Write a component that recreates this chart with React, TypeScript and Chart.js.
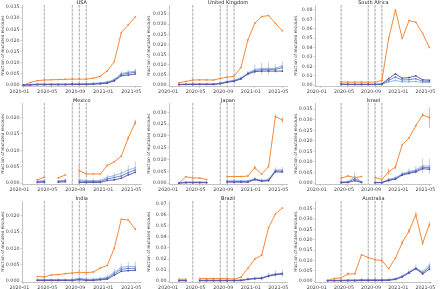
import React, { useEffect, useRef } from "react";
import { Chart, registerables } from "chart.js";
Chart.register(...registerables);

const months = [0, 1, 2, 3, 4, 5, 6, 7, 8, 9, 10, 11, 12, 13, 14, 15, 16];
const xTickMonths = [0, 4, 8, 12, 16];
const xTickLabels = ["2020-01", "2020-05", "2020-09", "2021-01", "2021-05"];
const eventMonths = [3, 7, 8, 9];
const countries = ["USA", "United Kingdom", "South Africa", "Mexico", "Japan", "Israel", "India", "Brazil", "Australia"];

const N = null;
// USA
const usaOrange = [0.0, 0.0012, 0.002, 0.0023, 0.0024, 0.0025, 0.0026, 0.0027, 0.0027, 0.0027, 0.0031, 0.004, 0.0064, 0.0105, 0.0235, 0.027, 0.0305];
const usaLight = [0.0, 0.0003, 0.0005, 0.0005, 0.0005, 0.0005, 0.0005, 0.0006, 0.0006, 0.0006, 0.0008, 0.001, 0.0014, 0.0025, 0.0052, 0.0058, 0.0063];
const usaMid = [0.0, 0.0002, 0.0004, 0.0004, 0.0004, 0.0004, 0.0004, 0.0005, 0.0005, 0.0005, 0.0006, 0.0008, 0.0012, 0.0022, 0.0048, 0.0053, 0.0058];
const usaDark = [0.0, 0.0001, 0.0002, 0.0002, 0.0002, 0.0002, 0.0002, 0.0003, 0.0003, 0.0003, 0.0004, 0.0006, 0.0009, 0.0019, 0.0042, 0.0045, 0.005];
const usaBlueErr = [0, 0.0002, 0.0003, 0.0003, 0.0003, 0.0003, 0.0003, 0.0003, 0.0003, 0.0003, 0.0004, 0.0005, 0.0007, 0.0009, 0.001, 0.0011, 0.0012];
const usaOrangeErr = [0, 0, 0, 0, 0, 0, 0, 0, 0, 0, 0, 0, 0, 0, 0, 0, 0];
const usaYTicks = [0, 0.005, 0.01, 0.015, 0.02, 0.025, 0.03, 0.035];
// United Kingdom
const ukOrange = [N, 0.0011, 0.0018, 0.0025, 0.0026, 0.0026, 0.0025, 0.0033, 0.0039, 0.0044, 0.0087, 0.0222, 0.0304, 0.0337, 0.0342, 0.0304, 0.0267];
const ukLight = [N, 0.0004, 0.0005, 0.0006, 0.0006, 0.0006, 0.0006, 0.001, 0.0018, 0.0024, 0.0036, 0.0059, 0.0077, 0.0082, 0.0082, 0.0083, 0.0095];
const ukMid = [N, 0.0003, 0.0004, 0.0005, 0.0005, 0.0005, 0.0005, 0.0009, 0.0016, 0.0022, 0.0033, 0.0057, 0.0072, 0.0076, 0.0076, 0.0078, 0.0086];
const ukDark = [N, 0.0002, 0.0003, 0.0003, 0.0003, 0.0003, 0.0003, 0.0007, 0.0014, 0.0019, 0.003, 0.0055, 0.0066, 0.0069, 0.0069, 0.0069, 0.0069];
const ukBlueErr = [0, 0.0002, 0.0003, 0.0003, 0.0003, 0.0003, 0.0003, 0.0004, 0.0005, 0.0006, 0.0008, 0.0012, 0.0025, 0.0028, 0.003, 0.0022, 0.002];
const ukOrangeErr = [0, 0, 0, 0, 0, 0, 0, 0, 0, 0, 0, 0, 0, 0, 0, 0, 0];
const ukYTicks = [0, 0.005, 0.01, 0.015, 0.02, 0.025, 0.03, 0.035];
// South Africa
const zaOrange = [N, N, N, 0.0035, 0.0032, 0.0032, 0.0032, 0.0032, 0.0032, 0.005, 0.0496, 0.08, 0.0496, 0.0687, 0.067, 0.055, 0.04];
const zaLight = [N, N, N, 0.0006, 0.0005, 0.0005, 0.0005, 0.0005, 0.0005, 0.0008, 0.0035, 0.005, 0.0035, 0.0036, 0.0039, 0.0028, 0.0028];
const zaMid = [N, N, N, 0.0008, 0.0007, 0.0007, 0.0007, 0.0007, 0.0007, 0.001, 0.0052, 0.0085, 0.0055, 0.0058, 0.0068, 0.0042, 0.004];
const zaDark = [N, N, N, 0.0012, 0.001, 0.001, 0.001, 0.001, 0.001, 0.0013, 0.007, 0.012, 0.0074, 0.008, 0.0099, 0.0057, 0.0053];
const zaBlueErr = [0, 0, 0, 0.0004, 0.0004, 0.0004, 0.0004, 0.0004, 0.0004, 0.0005, 0.0008, 0.001, 0.0008, 0.0008, 0.0008, 0.0007, 0.0007];
const zaOrangeErr = [0, 0, 0, 0, 0, 0, 0, 0, 0, 0, 0, 0, 0, 0, 0, 0, 0];
const zaYTicks = [0, 0.01, 0.02, 0.03, 0.04, 0.05, 0.06, 0.07, 0.08];
// Mexico
const mxOrange = [N, N, 0.001, 0.0018, N, 0.0016, 0.0025, N, 0.0038, 0.0028, 0.0028, 0.0028, 0.0054, 0.0065, 0.0082, 0.0138, 0.0185];
const mxLight = [N, N, 0.0006, 0.0008, N, 0.0007, 0.001, N, 0.001, 0.0008, 0.0008, 0.0008, 0.0018, 0.0023, 0.003, 0.004, 0.0047];
const mxMid = [N, N, 0.0004, 0.0005, N, 0.0005, 0.0007, N, 0.0006, 0.0005, 0.0005, 0.0005, 0.0013, 0.0017, 0.0022, 0.0032, 0.004];
const mxDark = [N, N, 0.0002, 0.0003, N, 0.0003, 0.0004, N, 0.0002, 0.0002, 0.0002, 0.0002, 0.0008, 0.001, 0.0015, 0.0025, 0.0033];
const mxBlueErr = [0, 0, 0.0003, 0.0003, 0, 0.0003, 0.0004, 0, 0.0005, 0.0004, 0.0004, 0.0004, 0.0008, 0.001, 0.0012, 0.0015, 0.0018];
const mxOrangeErr = [0, 0, 0, 0, 0, 0, 0, 0, 0.002, 0, 0, 0, 0, 0, 0, 0.0005, 0.0008];
const mxYTicks = [0, 0.005, 0.01, 0.015, 0.02];
// Japan
const jpOrange = [N, 0.0, 0.0027, 0.0022, 0.0022, 0.0015, N, N, 0.0028, 0.0028, 0.0028, 0.003, 0.0066, 0.0038, 0.007, 0.0283, 0.0268];
const jpLight = [N, 0.0002, 0.0005, 0.0005, 0.0005, 0.0004, N, N, 0.001, 0.001, 0.001, 0.001, 0.0019, 0.0012, 0.0015, 0.0056, 0.0056];
const jpMid = [N, 0.0001, 0.0003, 0.0003, 0.0003, 0.0003, N, N, 0.0007, 0.0007, 0.0007, 0.0007, 0.0017, 0.001, 0.0012, 0.0052, 0.0051];
const jpDark = [N, 0.0, 0.0002, 0.0002, 0.0002, 0.0002, N, N, 0.0004, 0.0004, 0.0004, 0.0004, 0.0015, 0.0008, 0.001, 0.0048, 0.0047];
const jpBlueErr = [0, 0.0002, 0.0003, 0.0003, 0.0003, 0.0003, 0, 0, 0.0004, 0.0004, 0.0004, 0.0005, 0.0008, 0.0008, 0.0009, 0.0012, 0.0012];
const jpOrangeErr = [0, 0, 0, 0, 0, 0, 0, 0, 0, 0, 0, 0, 0.0008, 0, 0, 0.0008, 0.0012];
const jpYTicks = [0, 0.005, 0.01, 0.015, 0.02, 0.025, 0.03];
// Israel
const ilOrange = [N, N, N, 0.0023, 0.0034, 0.0026, 0.0031, N, 0.0026, 0.0017, 0.0054, 0.0076, 0.0182, 0.0213, 0.0272, 0.0322, 0.031];
const ilLight = [N, N, N, 0.0006, 0.0007, 0.003, 0.0006, N, 0.0004, 0.0004, 0.0018, 0.0025, 0.0045, 0.0055, 0.0063, 0.0082, 0.008];
const ilMid = [N, N, N, 0.0004, 0.0005, 0.002, 0.0005, N, 0.0003, 0.0003, 0.0015, 0.0022, 0.0041, 0.005, 0.0058, 0.0075, 0.0073];
const ilDark = [N, N, N, 0.0002, 0.0003, 0.0012, 0.0003, N, 0.0002, 0.0002, 0.0012, 0.0019, 0.0038, 0.0046, 0.0053, 0.0068, 0.0066];
const ilBlueErr = [0, 0, 0, 0.0004, 0.0005, 0.0025, 0.0005, 0, 0.0004, 0.0004, 0.0008, 0.001, 0.0012, 0.0015, 0.0018, 0.0035, 0.0035];
const ilOrangeErr = [0, 0, 0, 0, 0, 0, 0, 0, 0, 0, 0.0015, 0.001, 0, 0, 0, 0.001, 0.0047];
const ilYTicks = [0, 0.005, 0.01, 0.015, 0.02, 0.025, 0.03, 0.035];
// India
const inOrange = [N, N, 0.0014, 0.0013, 0.0019, 0.002, 0.0023, 0.0025, 0.0027, 0.0026, 0.0028, 0.004, 0.0048, 0.0101, 0.0189, 0.0187, 0.0159];
const inLight = [N, N, 0.0005, 0.0005, 0.0005, 0.0005, 0.0005, 0.0005, 0.0009, 0.0006, 0.0006, 0.0008, 0.0012, 0.0028, 0.0042, 0.0045, 0.0045];
const inMid = [N, N, 0.0003, 0.0003, 0.0003, 0.0003, 0.0003, 0.0003, 0.0006, 0.0004, 0.0004, 0.0006, 0.0009, 0.0023, 0.0036, 0.0039, 0.0039];
const inDark = [N, N, 0.0002, 0.0002, 0.0002, 0.0002, 0.0002, 0.0002, 0.0004, 0.0002, 0.0002, 0.0004, 0.0006, 0.0018, 0.003, 0.0032, 0.0033];
const inBlueErr = [0, 0, 0.0003, 0.0003, 0.0003, 0.0003, 0.0003, 0.0003, 0.0004, 0.0004, 0.0004, 0.0006, 0.0008, 0.001, 0.0012, 0.0014, 0.0015];
const inOrangeErr = [0, 0, 0, 0, 0, 0, 0, 0, 0, 0, 0, 0, 0, 0, 0, 0, 0];
const inYTicks = [0, 0.005, 0.01, 0.015, 0.02];
// Brazil
const brOrange = [N, 0.0017, 0.0017, N, 0.0024, 0.0024, 0.0024, 0.0024, 0.0024, 0.0018, 0.0036, 0.0116, 0.02, 0.0235, 0.0482, 0.0607, 0.066];
const brLight = [N, 0.0006, 0.0006, N, 0.0009, 0.0009, 0.0009, 0.0009, 0.0009, 0.0009, 0.001, 0.002, 0.0027, 0.003, 0.0052, 0.0065, 0.0072];
const brMid = [N, 0.0005, 0.0005, N, 0.0007, 0.0007, 0.0007, 0.0007, 0.0007, 0.0007, 0.0008, 0.0017, 0.0024, 0.0027, 0.0048, 0.0061, 0.0068];
const brDark = [N, 0.0004, 0.0004, N, 0.0004, 0.0004, 0.0004, 0.0004, 0.0004, 0.0004, 0.0005, 0.0015, 0.0022, 0.0025, 0.0045, 0.0058, 0.0065];
const brBlueErr = [0, 0.0004, 0.0004, 0, 0.0005, 0.0005, 0.0005, 0.0005, 0.0005, 0.0005, 0.0006, 0.001, 0.0015, 0.002, 0.0025, 0.003, 0.0035];
const brOrangeErr = [0, 0, 0, 0, 0, 0, 0, 0, 0, 0, 0, 0, 0, 0, 0, 0, 0];
const brYTicks = [0, 0.01, 0.02, 0.03, 0.04, 0.05, 0.06, 0.07];
// Australia
const auOrange = [N, 0.0003, 0.0013, 0.0016, 0.0035, 0.0035, 0.0127, 0.0114, 0.0103, 0.01, 0.006, 0.0111, 0.0186, 0.0242, 0.0321, 0.0183, 0.0273];
const auLight = [N, 0.0004, 0.0005, 0.0005, 0.0006, 0.0006, 0.0008, 0.0008, 0.0008, 0.0008, 0.0008, 0.0012, 0.0025, 0.0045, 0.0065, 0.0045, 0.0078];
const auMid = [N, 0.0003, 0.0003, 0.0003, 0.0004, 0.0004, 0.0005, 0.0005, 0.0005, 0.0005, 0.0006, 0.001, 0.0022, 0.0042, 0.0062, 0.004, 0.0068];
const auDark = [N, 0.0002, 0.0002, 0.0002, 0.0002, 0.0002, 0.0003, 0.0003, 0.0003, 0.0003, 0.0004, 0.0008, 0.002, 0.004, 0.006, 0.0035, 0.0058];
const auBlueErr = [0, 0.0003, 0.0003, 0.0003, 0.0004, 0.0004, 0.0008, 0.0008, 0.0008, 0.0008, 0.0005, 0.0006, 0.0008, 0.0012, 0.0015, 0.0012, 0.0012];
const auOrangeErr = [0, 0, 0, 0, 0.0008, 0, 0, 0, 0, 0, 0, 0, 0.001, 0.0012, 0.0015, 0.001, 0.0012];
const auYTicks = [0, 0.005, 0.01, 0.015, 0.02, 0.025, 0.03, 0.035];

const ORANGE = "#f5893a";
const LIGHT = "#8db3df";
const MID = "#5b82cc";
const DARK = "#5b4ca6";
const ERRGRAY = "#c9ccd6";

// layout (pixel geometry of the grid)
const colLeft = [0, 146, 293];
const colWidth = [146, 147, 147];
const colYAxisW = [22, 23, 22];
const colRightPad = [3, 3, 3];
const colXRange = [[-0.2, 16.9], [-0.45, 16.7], [-0.85, 16.35]];
const rowTop = [0, 96, 193];
const rowHeight = [96, 97, 96];
const rowTopPad = [5, 7, 8];
const rowXAxisH = [9.5, 8.5, 6.5];

const panels = [
  { o: usaOrange, l: usaLight, m: usaMid, d: usaDark, be: usaBlueErr, oe: usaOrangeErr, yt: usaYTicks, yMax: 0.0359, dec: 3 },
  { o: ukOrange, l: ukLight, m: ukMid, d: ukDark, be: ukBlueErr, oe: ukOrangeErr, yt: ukYTicks, yMax: 0.0394, dec: 3 },
  { o: zaOrange, l: zaLight, m: zaMid, d: zaDark, be: zaBlueErr, oe: zaOrangeErr, yt: zaYTicks, yMax: 0.0853, dec: 2 },
  { o: mxOrange, l: mxLight, m: mxMid, d: mxDark, be: mxBlueErr, oe: mxOrangeErr, yt: mxYTicks, yMax: 0.0244, dec: 3 },
  { o: jpOrange, l: jpLight, m: jpMid, d: jpDark, be: jpBlueErr, oe: jpOrangeErr, yt: jpYTicks, yMax: 0.034, dec: 3 },
  { o: ilOrange, l: ilLight, m: ilMid, d: ilDark, be: ilBlueErr, oe: ilOrangeErr, yt: ilYTicks, yMax: 0.0379, dec: 3 },
  { o: inOrange, l: inLight, m: inMid, d: inDark, be: inBlueErr, oe: inOrangeErr, yt: inYTicks, yMax: 0.0245, dec: 3 },
  { o: brOrange, l: brLight, m: brMid, d: brDark, be: brBlueErr, oe: brOrangeErr, yt: brYTicks, yMax: 0.0724, dec: 2 },
  { o: auOrange, l: auLight, m: auMid, d: auDark, be: auBlueErr, oe: auOrangeErr, yt: auYTicks, yMax: 0.0387, dec: 3 },
];

const FONT = "DejaVu Sans";

function toXY(arr: (number | null)[]) {
  return months.map((mo, i) => ({ x: mo, y: arr[i] }));
}

function Panel({ idx }: { idx: number }) {
  const ref = useRef<HTMLCanvasElement | null>(null);
  const p = panels[idx];
  const col = idx % 3;
  const row = Math.floor(idx / 3);
  useEffect(() => {
    if (!ref.current) return;
    const yMin = -p.yMax * 0.017;
    const mkLine = (arr: (number | null)[], color: string, errs: number[] | null, errColor: string, w: number) => ({
      data: toXY(arr),
      borderColor: color,
      backgroundColor: color,
      borderWidth: w,
      pointStyle: "rect",
      pointRadius: 1.1,
      pointBorderWidth: 0,
      pointBackgroundColor: color,
      spanGaps: false,
      errs,
      errColor,
    });
    const plugin = {
      id: "extras" + idx,
      beforeDatasetsDraw(chart: any) {
        const { ctx, chartArea, scales } = chart;
        ctx.save();
        ctx.beginPath();
        ctx.rect(chartArea.left, chartArea.top, chartArea.right - chartArea.left, chartArea.bottom - chartArea.top);
        ctx.clip();
        // event lines
        eventMonths.forEach((em) => {
          const px = scales.x.getPixelForValue(em);
          ctx.strokeStyle = "rgba(215,215,215,0.45)";
          ctx.lineWidth = 1.6;
          ctx.setLineDash([]);
          ctx.beginPath();
          ctx.moveTo(px, chartArea.top);
          ctx.lineTo(px, chartArea.bottom);
          ctx.stroke();
          ctx.strokeStyle = "#999999";
          ctx.lineWidth = 0.7;
          ctx.setLineDash([2.5, 1.5]);
          ctx.beginPath();
          ctx.moveTo(px, chartArea.top);
          ctx.lineTo(px, chartArea.bottom);
          ctx.stroke();
        });
        ctx.setLineDash([]);
        // error bars
        chart.data.datasets.forEach((ds: any) => {
          if (!ds.errs) return;
          ctx.strokeStyle = ds.errColor;
          ctx.lineWidth = 1;
          ds.data.forEach((pt: any, j: number) => {
            const e = ds.errs[j];
            if (pt.y === null || !e) return;
            const px = scales.x.getPixelForValue(pt.x);
            ctx.beginPath();
            ctx.moveTo(px, scales.y.getPixelForValue(pt.y - e));
            ctx.lineTo(px, scales.y.getPixelForValue(pt.y + e));
            ctx.stroke();
          });
        });
        ctx.restore();
      },
      afterDraw(chart: any) {
        const { ctx, chartArea } = chart;
        ctx.save();
        ctx.fillStyle = "#222";
        ctx.font = `5px "${FONT}"`;
        ctx.textAlign = "center";
        ctx.textBaseline = "middle";
        ctx.fillText(countries[idx], (chartArea.left + chartArea.right) / 2, chartArea.top - 2.6);
        ctx.restore();
      },
    };
    const chart = new Chart(ref.current, {
      type: "line",
      data: {
        datasets: [
          mkLine(p.d, DARK, null, ERRGRAY, 0.9),
          mkLine(p.m, MID, null, ERRGRAY, 0.9),
          mkLine(p.l, LIGHT, p.be, ERRGRAY, 0.9),
          mkLine(p.o, ORANGE, p.oe, "#f7ad78", 1),
        ] as any,
      },
      options: {
        animation: false,
        responsive: true,
        maintainAspectRatio: false,
        events: [],
        layout: { padding: { top: rowTopPad[row], right: colRightPad[col], left: 0, bottom: 0 } },
        plugins: { legend: { display: false }, tooltip: { enabled: false }, title: { display: false } },
        scales: {
          x: {
            type: "linear",
            min: colXRange[col][0],
            max: colXRange[col][1],
            afterBuildTicks: (s: any) => {
              s.ticks = xTickMonths.map((v) => ({ value: v }));
            },
            afterFit: (s: any) => {
              s.height = rowXAxisH[row];
            },
            ticks: {
              autoSkip: false,
              maxRotation: 0,
              padding: 0.5,
              labelOffset: -4,
              color: "#444",
              font: { family: FONT, size: 4.8 },
              callback: (v: any) => {
                const k = xTickMonths.indexOf(v);
                return k >= 0 ? xTickLabels[k] : "";
              },
            },
            grid: { display: true, drawOnChartArea: false, drawTicks: true, tickLength: 1.5, color: "#b5b5b5", lineWidth: 0.6 },
            border: { display: true, color: "#b5b5b5", width: 0.8 },
          },
          y: {
            type: "linear",
            min: yMin,
            max: p.yMax,
            afterBuildTicks: (s: any) => {
              s.ticks = p.yt.map((v) => ({ value: v }));
            },
            afterFit: (s: any) => {
              s.width = colYAxisW[col];
            },
            ticks: {
              autoSkip: false,
              padding: 1,
              color: "#444",
              font: { family: FONT, size: 4.8 },
              callback: (v: any) => Number(v).toFixed(p.dec),
            },
            title: {
              display: true,
              text: "Fraction of mutated residues",
              color: "#333",
              font: { family: FONT, size: 4.2 },
              padding: 0.5,
            },
            grid: { display: true, drawOnChartArea: false, drawTicks: true, tickLength: 1.5, color: "#b5b5b5", lineWidth: 0.6 },
            border: { display: true, color: "#b5b5b5", width: 0.8 },
          },
        },
      } as any,
      plugins: [plugin as any],
    });
    return () => chart.destroy();
  }, [idx]);
  return (
    <div
      style={{
        position: "absolute",
        left: colLeft[col],
        top: rowTop[row],
        width: colWidth[col],
        height: rowHeight[row],
      }}
    >
      <canvas ref={ref} />
    </div>
  );
}

export default function App() {
  useEffect(() => {
    document.body.style.margin = "0";
    document.body.style.background = "#fff";
  }, []);
  return (
    <div style={{ position: "absolute", left: 0, top: 0, width: 440, height: 289, background: "#fff", overflow: "hidden" }}>
      {panels.map((_, i) => (
        <Panel key={i} idx={i} />
      ))}
    </div>
  );
}
